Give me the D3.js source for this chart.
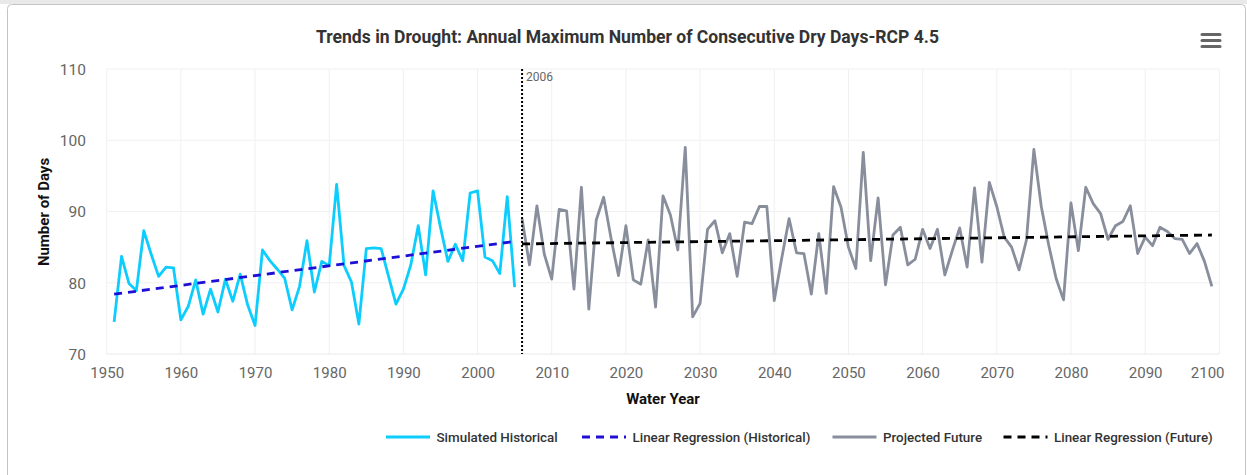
<!DOCTYPE html>
<html>
<head>
<meta charset="utf-8">
<script src="https://cdn.jsdelivr.net/npm/d3@7"></script>
<style>
  html, body { margin: 0; padding: 0; background: #ffffff; }
  svg { display: block; font-family: Roboto, "Noto Sans", sans-serif; }
</style>
</head>
<body>
<svg id="chart" width="1247" height="475"></svg>
<script>
// Annual maximum number of consecutive dry days, RCP 4.5
const histYears = d3.range(1951, 2006);
const histValues = [
  74.5, 83.7, 79.9, 78.9, 87.3, 84.0, 80.9, 82.2, 82.1, 74.8,
  76.7, 80.4, 75.6, 79.1, 75.9, 80.5, 77.4, 81.2, 76.9, 74.0,
  84.6, 83.1, 81.9, 80.6, 76.2, 79.5, 85.9, 78.7, 83.0, 82.4,
  93.8, 82.4, 80.1, 74.2, 84.8, 84.9, 84.8, 80.9, 77.0, 79.1,
  82.5, 88.0, 81.1, 92.9, 87.8, 83.0, 85.4, 83.1, 92.6, 92.9,
  83.6, 83.1, 81.3, 92.1, 79.4
];
const futYears = d3.range(2006, 2100);
const futValues = [
  89.0, 82.5, 90.8, 84.0, 80.5, 90.3, 90.1, 79.1, 93.4, 76.3,
  88.8, 92.0, 86.2, 81.0, 88.0, 80.4, 79.8, 86.0, 76.6, 92.2,
  89.5, 84.6, 99.0, 75.2, 77.1, 87.5, 88.7, 84.2, 86.9, 80.9,
  88.5, 88.3, 90.7, 90.7, 77.5, 83.4, 89.0, 84.2, 84.1, 78.4,
  86.9, 78.5, 93.5, 90.6, 85.0, 82.0, 98.3, 83.1, 91.9, 79.7,
  86.7, 87.8, 82.5, 83.3, 87.5, 84.8, 87.5, 81.1, 84.5, 87.7,
  82.2, 93.3, 82.9, 94.1, 90.7, 86.4, 85.0, 81.8, 86.0, 98.7,
  90.7, 85.3, 80.6, 77.6, 91.2, 84.5, 93.4, 91.1, 89.7, 86.1,
  88.0, 88.6, 90.8, 84.1, 86.4, 85.2, 87.8, 87.2, 86.2, 86.1,
  84.1, 85.5, 83.0, 79.5
];
// Fitted trend lines: [start year, end year] and [start value, end value]
const histTrendYears = [1951, 2005];
const histTrendValues = [78.4, 85.8];
const futTrendYears = [2006, 2099];
const futTrendValues = [85.45, 86.7];

const xTicks = d3.range(1950, 2101, 10);
const yTicks = [70, 80, 90, 100, 110];
const markerYear = 2006;

const titleText = "Trends in Drought: Annual Maximum Number of Consecutive Dry Days-RCP 4.5";
const legendItems = [
  { label: "Simulated Historical", color: "#0ccdfd", dash: null },
  { label: "Linear Regression (Historical)", color: "#1e0fd6", dash: "8,6" },
  { label: "Projected Future", color: "#888e9c", dash: null },
  { label: "Linear Regression (Future)", color: "#000000", dash: "8,6" }
];

const svg = d3.select("#chart");

// page strip and card frame
svg.append("rect").attr("x", 0).attr("y", 0).attr("width", 1247).attr("height", 4).attr("fill", "#e9e9e9");
svg.append("rect").attr("x", 7.5).attr("y", 4.5).attr("width", 1238).attr("height", 480)
  .attr("rx", 4).attr("fill", "#ffffff").attr("stroke", "#c4c4c4").attr("stroke-width", 1);

const x = d3.scaleLinear().domain([1950, 2100]).range([106.7, 1219.3]);
const y = d3.scaleLinear().domain([70, 110]).range([354, 69]);

// grid
const grid = svg.append("g");
grid.selectAll(".vg").data(xTicks).join("line")
  .attr("x1", d => x(d)).attr("x2", d => x(d)).attr("y1", y(110)).attr("y2", y(70))
  .attr("stroke", "#f0f0f0").attr("stroke-width", 1);
grid.selectAll(".hg").data(yTicks).join("line")
  .attr("x1", x(1950)).attr("x2", x(2100)).attr("y1", d => y(d)).attr("y2", d => y(d))
  .attr("stroke", d => d === 70 ? "#e8e8e8" : "#f0f0f0").attr("stroke-width", 1);

// x axis labels
const xAxis = d3.axisBottom(x).tickValues(xTicks).tickFormat(d3.format("d")).tickSize(0).tickPadding(0);
const xg = svg.append("g").attr("transform", `translate(0,${y(70)})`).call(xAxis);
xg.select(".domain").remove();
xg.selectAll("text").attr("font-size", 15).attr("fill", "#666666")
  .attr("font-family", "Roboto, sans-serif").attr("dy", null).attr("y", 24)
  .each(function(d) { if (d === 2100) d3.select(this).attr("text-anchor", "end").attr("x", 1224 - x(2100)); });

// y axis labels
const yAxis = d3.axisLeft(y).tickValues(yTicks).tickSize(0).tickPadding(0);
const yg = svg.append("g").attr("transform", `translate(86,0)`).call(yAxis);
yg.select(".domain").remove();
yg.selectAll("text").attr("font-size", 15.5).attr("fill", "#666666")
  .attr("font-family", "Roboto, sans-serif").attr("x", 0).attr("dy", "0.35em");

// axis titles
svg.append("text").attr("x", x(2025)).attr("y", 404).attr("text-anchor", "middle")
  .attr("font-size", 15).attr("font-weight", 700).attr("fill", "#111").text("Water Year");
svg.append("text").attr("transform", `translate(49,212) rotate(-90)`).attr("text-anchor", "middle")
  .attr("font-size", 15).attr("font-weight", 700).attr("fill", "#111").text("Number of Days");

// title
svg.append("text").attr("x", 627.5).attr("y", 43).attr("text-anchor", "middle")
  .attr("font-size", 19).attr("font-weight", 700).attr("fill", "#333333")
  .attr("font-family", "Roboto, sans-serif")
  .attr("textLength", 623).attr("lengthAdjust", "spacingAndGlyphs").text(titleText);

// menu icon
svg.append("g").selectAll("line").data([0, 6, 12]).join("line")
  .attr("x1", 1202).attr("x2", 1220).attr("y1", d => 34.5 + d).attr("y2", d => 34.5 + d)
  .attr("stroke", "#666666").attr("stroke-width", 3).attr("stroke-linecap", "round");

const line = d3.line().x(d => x(d[0])).y(d => y(d[1]));

// series
svg.append("path").datum(histYears.map((yr, i) => [yr, histValues[i]]))
  .attr("d", line).attr("fill", "none").attr("stroke", legendItems[0].color)
  .attr("stroke-width", 2.8).attr("stroke-linejoin", "round");
svg.append("path").datum(futYears.map((yr, i) => [yr, futValues[i]]))
  .attr("d", line).attr("fill", "none").attr("stroke", legendItems[2].color)
  .attr("stroke-width", 2.8).attr("stroke-linejoin", "round");

// trend lines
svg.append("path").datum(histTrendYears.map((yr, i) => [yr, histTrendValues[i]]))
  .attr("d", line).attr("fill", "none").attr("stroke", legendItems[1].color)
  .attr("stroke-width", 2.8).attr("stroke-dasharray", "8,6");
svg.append("path").datum(futTrendYears.map((yr, i) => [yr, futTrendValues[i]]))
  .attr("d", line).attr("fill", "none").attr("stroke", legendItems[3].color)
  .attr("stroke-width", 2.8).attr("stroke-dasharray", "8,6");

// 2006 marker line
svg.append("line").attr("x1", x(markerYear)).attr("x2", x(markerYear))
  .attr("y1", y(110)).attr("y2", y(70))
  .attr("stroke", "#000000").attr("stroke-width", 2).attr("stroke-dasharray", "2,2");
svg.append("text").attr("x", x(markerYear) + 4).attr("y", 81)
  .attr("font-size", 12).attr("fill", "#666666").text(String(markerYear));

// legend
const legendX = [386, 582, 832.5, 1003.5];
const lg = svg.append("g").selectAll("g").data(legendItems).join("g")
  .attr("transform", (d, i) => `translate(${legendX[i]},437)`);
lg.append("line").attr("x1", 0).attr("x2", 44).attr("y1", 0).attr("y2", 0)
  .attr("stroke", d => d.color).attr("stroke-width", 2.8)
  .attr("stroke-dasharray", d => d.dash);
lg.append("text").attr("x", 50.5).attr("y", 0).attr("dy", "0.35em")
  .attr("font-size", 13.4).attr("font-weight", 500).attr("fill", "#333333").text(d => d.label);
</script>
</body>
</html>
